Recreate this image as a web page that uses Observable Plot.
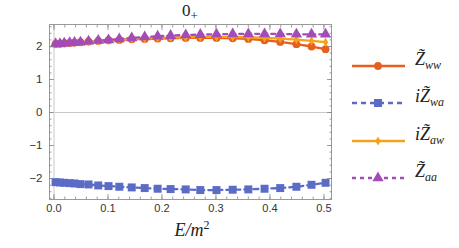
<!DOCTYPE html>
<html>
<head>
<meta charset="utf-8">
<script src="https://cdn.jsdelivr.net/npm/d3@7"></script>
<script src="https://cdn.jsdelivr.net/npm/@observablehq/plot@0.6"></script>
<style>
  body { margin: 0; background: #fff; }
  #wrap { position: relative; width: 459px; height: 248px; }
  #legend { position: absolute; left: 350px; top: 52px; font-family: "Liberation Serif", "DejaVu Serif", serif; font-style: italic; font-size: 18px; color: #222; }
  .item { position: absolute; left: 0; width: 110px; height: 20px; }
  .item svg { position: absolute; left: 0; top: 0; }
  .item span { position: absolute; left: 65px; top: -3px; white-space: nowrap; }
  .item sub { font-size: 12px; vertical-align: -4px; }
  .ovl { position: absolute; width: 200px; text-align: center; font-family: "Liberation Serif", "DejaVu Serif", serif; color: #222; white-space: nowrap; }
  #title { left: 90px; top: 1px; font-size: 17px; }
  #title sub { font-size: 13px; vertical-align: -4px; }
  #xlabel { left: 92px; top: 218px; font-size: 18px; font-style: italic; }
  #xlabel sup { font-size: 12px; font-style: normal; vertical-align: 7px; }
</style>
</head>
<body>
<div id="wrap"></div>
<script>
const xs = [0.003, 0.011, 0.019, 0.029, 0.038, 0.049, 0.064, 0.082, 0.101, 0.121, 0.144, 0.168,
            0.192, 0.216, 0.244, 0.271, 0.301, 0.331, 0.360, 0.390, 0.419, 0.449, 0.477, 0.503];
const Zww = [2.08, 2.09, 2.10, 2.11, 2.12, 2.13, 2.15, 2.17, 2.19, 2.20, 2.22, 2.23,
             2.24, 2.25, 2.26, 2.26, 2.26, 2.25, 2.23, 2.19, 2.14, 2.07, 2.00, 1.92];
const iZwa = [-2.11, -2.12, -2.13, -2.14, -2.15, -2.17, -2.18, -2.21, -2.23, -2.25, -2.27, -2.29,
              -2.31, -2.32, -2.33, -2.35, -2.35, -2.34, -2.33, -2.31, -2.29, -2.25, -2.19, -2.13];
const iZaw = [2.08, 2.09, 2.10, 2.11, 2.12, 2.13, 2.15, 2.17, 2.19, 2.21, 2.23, 2.25,
              2.26, 2.27, 2.28, 2.29, 2.29, 2.29, 2.28, 2.26, 2.24, 2.21, 2.17, 2.13];
const Zaa = [2.08, 2.08, 2.10, 2.11, 2.12, 2.13, 2.16, 2.18, 2.20, 2.23, 2.26, 2.29,
             2.31, 2.33, 2.35, 2.36, 2.37, 2.38, 2.38, 2.38, 2.38, 2.37, 2.37, 2.37];
const xTicks = [0, 0.1, 0.2, 0.3, 0.4, 0.5];
const yTicks = [-2, -1, 0, 1, 2];
const titleHtml = "0<sub>+</sub>";
const xLabelHtml = "E/m<sup>2</sup>";

const series = [
  {name: "Zww", vals: Zww, color: "#e5601e", dash: null, symbol: "circle", r: 3.9},
  {name: "iZwa", vals: iZwa, color: "#5b6cc7", dash: "5,4", symbol: "square", r: 4.5},
  {name: "iZaw", vals: iZaw, color: "#f4a21a", dash: null, symbol: "diamond", r: 2.8},
  {name: "Zaa", vals: Zaa, color: "#a34cb8", dash: "4,4", symbol: "triangle", r: 4.2}
];

const xMinor = d3.range(-0.0, 0.52, 0.02).map(v => +v.toFixed(2));
const yMinor = d3.range(-2.6, 2.61, 0.2).map(v => +v.toFixed(1));

const marks = [
  Plot.ruleY([0], {stroke: "#c8c8c8", strokeWidth: 1}),
  Plot.ruleX([0], {stroke: "#e4e4e4", strokeWidth: 2})
];
for (const s of series) {
  const data = xs.map((x, i) => ({x, y: s.vals[i]}));
  marks.push(Plot.line(data, {x: "x", y: "y", stroke: s.color, strokeWidth: 2.3, strokeDasharray: s.dash}));
  marks.push(Plot.dot(data, {x: "x", y: "y", fill: s.color, stroke: "none", symbol: s.symbol, r: s.r}));
}
const tickStyle = {stroke: "#888", strokeWidth: 0.8};
marks.push(
  Plot.frame({stroke: "#999"}),
  Plot.axisX(xTicks, {anchor: "bottom", tickSize: -5, tickPadding: 10, tickFormat: d3.format(".1f"), fontSize: 11, label: null, ...tickStyle}),
  Plot.axisX(xMinor, {anchor: "bottom", tickSize: -2.5, tickFormat: null, text: null, label: null, ...tickStyle}),
  Plot.axisX(xTicks, {anchor: "top", tickSize: -5, tickFormat: null, text: null, label: null, ...tickStyle}),
  Plot.axisX(xMinor, {anchor: "top", tickSize: -2.5, tickFormat: null, text: null, label: null, ...tickStyle}),
  Plot.axisY(yTicks, {anchor: "left", tickSize: -5, tickPadding: 12, tickFormat: d => d < 0 ? "\u2212" + Math.abs(d) : String(d), fontSize: 11.5, label: null, ...tickStyle}),
  Plot.axisY(yMinor, {anchor: "left", tickSize: -2.5, text: null, label: null, ...tickStyle}),
  Plot.axisY(yTicks, {anchor: "right", tickSize: -5, text: null, label: null, ...tickStyle}),
  Plot.axisY(yMinor, {anchor: "right", tickSize: -2.5, text: null, label: null, ...tickStyle})
);

const chart = Plot.plot({
  width: 459, height: 248,
  marginLeft: 49, marginRight: 128, marginTop: 24, marginBottom: 49,
  style: {fontFamily: "Liberation Sans, Arial, sans-serif", fontSize: "11px", color: "#333", background: "white"},
  x: {domain: [-0.0083, 0.514]},
  y: {domain: [-2.636, 2.667]},
  marks
});
const wrap = document.getElementById("wrap");
wrap.appendChild(chart);

const title = document.createElement("div");
title.className = "ovl"; title.id = "title"; title.innerHTML = titleHtml;
wrap.appendChild(title);
const xl = document.createElement("div");
xl.className = "ovl"; xl.id = "xlabel"; xl.innerHTML = xLabelHtml;
wrap.appendChild(xl);

const labels = [
  "<i>Z\u0303</i><sub>ww</sub>",
  "<i>i</i><i>Z\u0303</i><sub>wa</sub>",
  "<i>i</i><i>Z\u0303</i><sub>aw</sub>",
  "<i>Z\u0303</i><sub>aa</sub>"
];
const legend = document.createElement("div");
legend.id = "legend";
series.forEach((s, i) => {
  const item = document.createElement("div");
  item.className = "item";
  item.style.top = (i * 37.3) + "px";
  const svg = d3.create("svg").attr("width", 60).attr("height", 20);
  svg.append("line").attr("x1", 2).attr("x2", 55).attr("y1", 14).attr("y2", 14)
    .attr("stroke", s.color).attr("stroke-width", 2.3).attr("stroke-dasharray", s.dash);
  const sym = {circle: d3.symbolCircle, square: d3.symbolSquare, diamond: d3.symbolDiamond, triangle: d3.symbolTriangle}[s.symbol];
  svg.append("path").attr("transform", "translate(28,14)")
    .attr("d", d3.symbol(sym, Math.PI * s.r * s.r)()).attr("fill", s.color);
  item.appendChild(svg.node());
  const sp = document.createElement("span");
  sp.innerHTML = labels[i];
  item.appendChild(sp);
  legend.appendChild(item);
});
wrap.appendChild(legend);
</script>
</body>
</html>
